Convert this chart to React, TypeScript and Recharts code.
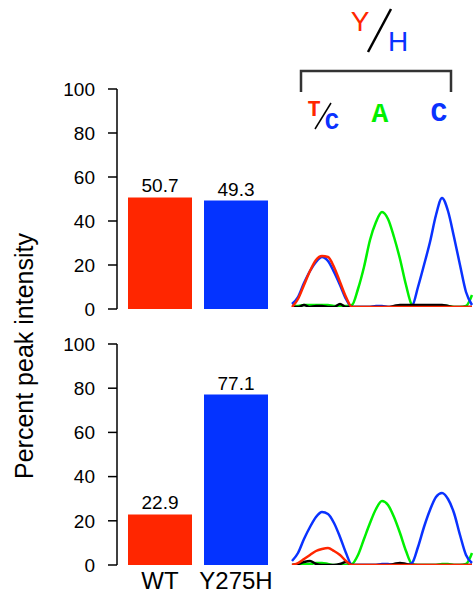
import { BarChart, Bar, XAxis, YAxis, Cell, LabelList, LineChart, Line } from "recharts"

const genotypes = ["WT", "Y275H"]
const topPercent = [50.7, 49.3]
const bottomPercent = [22.9, 77.1]
const barColors = ["#FF2600", "#0433FF"]
const percentTicks = [0, 20, 40, 60, 80, 100]

// chromatogram scans (one value per scan step)
const scans = [0, 1, 2, 3, 4, 5, 6, 7, 8, 9, 10, 11, 12, 13, 14, 15, 16, 17, 18, 19, 20, 21, 22, 23, 24, 25, 26, 27, 28, 29, 30]

const topG = [1, 1, 2, 2, 2, 2, 2, 1, 1, 1, 2, 18, 40, 67, 85, 95, 88, 70, 48, 22, 2, 0, 0, 1, 0, 1, 1, 0, 0, 1, 12]
const topC = [3, 10, 24, 36, 45, 50, 46, 35, 22, 8, 0, 0, 0, 0, 1, 1, 0, 0, 0, 0, 1, 20, 42, 65, 92, 109, 96, 70, 42, 15, 2]
const topN = [0, 0, 2, 0, 1, 1, 0, 0, 3, 0, 0, 0, 0, 0, 0, 0, 0, 1, 2, 2, 2, 2, 2, 2, 2, 2, 1, 0, 0, 0, 0]
const topT = [0, 8, 22, 36, 47, 51, 50, 40, 25, 10, 0, 0, 0, 0, 0, 0, 0, 0, 0, 0, 0, 0, 0, 0, 0, 0, 0, 0, 0, 0, 0]

const botG = [0, 0, 1, 1, 2, 2, 1, 0, 0, 0, 1, 10, 26, 42, 56, 64, 60, 48, 32, 14, 1, 0, 0, 0, 0, 1, 1, 0, 0, 1, 12]
const botC = [4, 12, 26, 38, 48, 53, 51, 42, 28, 12, 0, 0, 0, 0, 0, 1, 1, 0, 0, 0, 2, 18, 38, 55, 68, 72, 66, 52, 30, 10, 2]
const botN = [0, 1, 3, 4, 1, 0, 0, 0, 1, 3, 0, 0, 0, 0, 0, 0, 0, 1, 2, 1, 0, 0, 0, 0, 0, 0, 0, 0, 0, 0, 0]
const botT = [0, 2, 6, 10, 14, 16, 17, 14, 10, 4, 0, 0, 0, 0, 0, 0, 0, 0, 0, 0, 0, 0, 0, 0, 0, 0, 0, 0, 0, 0, 0]

const FONT = "'Liberation Sans', Arial, Helvetica, sans-serif"
const MONO = "'Liberation Mono', 'Courier New', monospace"
const GREEN = "#00F000"
const BLUE = "#0A32FF"
const RED = "#FF2600"

function barRows(values: number[]) {
  return genotypes.map((g, i) => ({ genotype: g, pct: values[i] }))
}

function traceRows(a: number[], c: number[], n: number[], t: number[]) {
  return scans.map((s, i) => ({ scan: s, A: a[i], C: c[i], N: n[i], T: t[i] }))
}

function PercentBars({ values, showNames }: { values: number[]; showNames: boolean }) {
  return (
    <BarChart
      width={290}
      height={showNames ? 265 : 320}
      data={barRows(values)}
      margin={showNames ? { top: 14, right: 11, bottom: 0, left: 0 } : { top: 89, right: 11, bottom: 11, left: 0 }}
      barSize={64}
    >
      <XAxis
        dataKey="genotype"
        hide={!showNames}
        height={30}
        padding={{ left: 5, right: 5 }}
        tickLine={false}
        axisLine={false}
        tickSize={0}
        tickMargin={7}
        tick={{ fontSize: 24, fill: "#000", fontFamily: FONT }}
      />
      <YAxis
        width={117}
        domain={[0, 100]}
        ticks={percentTicks}
        interval={0}
        tickSize={9}
        tickMargin={13}
        axisLine={{ stroke: "#000", strokeWidth: 1.5 }}
        tickLine={{ stroke: "#000", strokeWidth: 1.5 }}
        tick={{ fontSize: 19, fill: "#000", fontFamily: FONT }}
      />
      <Bar dataKey="pct" isAnimationActive={false}>
        {values.map((_, i) => (
          <Cell key={i} fill={barColors[i]} />
        ))}
        <LabelList
          dataKey="pct"
          position="top"
          formatter={(v: number) => Number(v).toFixed(1)}
          style={{ fontSize: 19, fill: "#000", fontFamily: FONT }}
        />
      </Bar>
    </BarChart>
  )
}

function Trace({ rows, max, height }: { rows: any[]; max: number; height: number }) {
  return (
    <LineChart width={188} height={height} data={rows} margin={{ top: 4, right: 4, bottom: 4, left: 4 }}>
      <XAxis dataKey="scan" type="number" domain={[0, 30]} hide />
      <YAxis domain={[0, max]} hide allowDataOverflow />
      <Line dataKey="A" type="monotone" stroke={GREEN} strokeWidth={2.5} dot={false} isAnimationActive={false} />
      <Line dataKey="C" type="monotone" stroke={BLUE} strokeWidth={2.5} dot={false} isAnimationActive={false} />
      <Line dataKey="N" type="monotone" stroke="#000" strokeWidth={2.5} dot={false} isAnimationActive={false} />
      <Line dataKey="T" type="monotone" stroke={RED} strokeWidth={2.5} dot={false} isAnimationActive={false} />
    </LineChart>
  )
}

export default function App() {
  return (
    <div style={{ position: "absolute", left: 0, top: 0, width: 476, height: 595, background: "#fff", overflow: "hidden" }}>
      <div style={{ position: "absolute", left: 0, top: 0 }}>
        <PercentBars values={topPercent} showNames={false} />
      </div>
      <div style={{ position: "absolute", left: 0, top: 330 }}>
        <PercentBars values={bottomPercent} showNames />
      </div>
      <div style={{ position: "absolute", left: 288, top: 186 }}>
        <Trace rows={traceRows(topG, topC, topN, topT)} max={117} height={125} />
      </div>
      <div style={{ position: "absolute", left: 288, top: 476 }}>
        <Trace rows={traceRows(botG, botC, botN, botT)} max={85} height={93} />
      </div>
      <svg width={476} height={595} style={{ position: "absolute", left: 0, top: 0, pointerEvents: "none" }}>
        <text
          transform="translate(33,356) rotate(-90)"
          textAnchor="middle"
          fontSize={25}
          fontFamily={FONT}
          fill="#000"
        >
          Percent peak intensity
        </text>
        <text x={360} y={31} textAnchor="middle" fontSize={28} fontFamily={FONT} fill={RED}>Y</text>
        <line x1={368} y1={52} x2={391} y2={9} stroke="#000" strokeWidth={2.5} />
        <text x={398} y={51} textAnchor="middle" fontSize={28} fontFamily={FONT} fill={BLUE}>H</text>
        <path d="M301 92 V71 H451 V92" fill="none" stroke="#333" strokeWidth={2.5} />
        <text x={314} y={116} textAnchor="middle" fontSize={22} fontWeight="bold" fontFamily={MONO} fill={RED}>T</text>
        <line x1={315} y1={129} x2={331} y2={103} stroke="#000" strokeWidth={1.5} />
        <text x={332} y={129} textAnchor="middle" fontSize={24} fontWeight="bold" fontFamily={MONO} fill={BLUE}>C</text>
        <text x={380} y={122} textAnchor="middle" fontSize={28} fontWeight="bold" fontFamily={MONO} fill={GREEN}>A</text>
        <text x={439} y={121} textAnchor="middle" fontSize={28} fontWeight="bold" fontFamily={MONO} fill={BLUE}>C</text>
      </svg>
    </div>
  )
}
